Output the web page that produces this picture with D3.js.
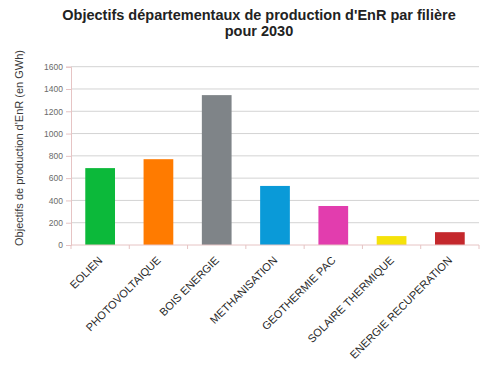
<!DOCTYPE html>
<html>
<head>
<meta charset="utf-8">
<script src="https://cdn.jsdelivr.net/npm/d3@7"></script>
<style>
  html, body { margin: 0; padding: 0; background: #fff; }
  svg { display: block; font-family: "Liberation Sans", Arial, sans-serif; }
</style>
</head>
<body>
<svg id="chart" width="482" height="369"></svg>
<script>
// Objectifs par filière (GWh)
const categories = ["EOLIEN", "PHOTOVOLTAIQUE", "BOIS ENERGIE", "METHANISATION",
  "GEOTHERMIE PAC", "SOLAIRE THERMIQUE", "ENERGIE RECUPERATION"];
const values = [690, 770, 1345, 530, 350, 80, 115];
const barColors = ["#0cb93a", "#ff7b00", "#7f8488", "#0a9ad8", "#e23dae", "#f5e20a", "#c4282c"];
const yTicks = [0, 200, 400, 600, 800, 1000, 1200, 1400, 1600];

const titleLines = ["Objectifs départementaux de production d'EnR par filière", "pour 2030"];
const yTitle = "Objectifs de production d'EnR (en GWh)";

const svg = d3.select("#chart");
const m = { left: 71, right: 479, top: 66.7, bottom: 245 };

const x = d3.scaleBand()
  .domain(categories)
  .range([m.left, m.right])
  .paddingInner(0.49)
  .paddingOuter(0.245);

const y = d3.scaleLinear().domain([0, 1600]).range([m.bottom, m.top]);

// horizontal gridlines
svg.append("g")
  .selectAll("line")
  .data(yTicks.filter(d => d > 0))
  .join("line")
  .attr("x1", m.left).attr("x2", m.right)
  .attr("y1", d => y(d)).attr("y2", d => y(d))
  .attr("stroke", "#d3d3d3").attr("stroke-width", 1);

// bars
svg.append("g")
  .selectAll("rect")
  .data(values)
  .join("rect")
  .attr("x", (d, i) => x(categories[i]))
  .attr("y", d => y(d))
  .attr("width", x.bandwidth())
  .attr("height", d => y(0) - y(d))
  .attr("fill", (d, i) => barColors[i]);

// y axis
const yAxis = svg.append("g")
  .attr("transform", `translate(${m.left},0)`)
  .call(d3.axisLeft(y).tickValues(yTicks).tickSize(5).tickPadding(3).tickFormat(d3.format("d")));
yAxis.select(".domain").attr("stroke", "#e6c4c4");
yAxis.selectAll(".tick line").attr("stroke", "#e6c4c4");
yAxis.selectAll(".tick text").attr("fill", "#6a6a6a").attr("font-size", 8.5)
  .attr("font-family", "Liberation Sans, Arial, sans-serif");

// x axis: ticks on category boundaries
const xAxisG = svg.append("g").attr("transform", `translate(0,${m.bottom})`);
xAxisG.append("line")
  .attr("x1", m.left).attr("x2", m.right)
  .attr("stroke", "#e6c4c4");
const step = x.step();
xAxisG.selectAll("line.tk")
  .data(d3.range(categories.length + 1))
  .join("line").attr("class", "tk")
  .attr("x1", i => m.left + i * step).attr("x2", i => m.left + i * step)
  .attr("y1", 0).attr("y2", 4)
  .attr("stroke", "#e6c4c4");

xAxisG.selectAll("text")
  .data(categories)
  .join("text")
  .attr("transform", d => `translate(${x(d) + x.bandwidth() / 2 + 3},${16}) rotate(-45)`)
  .attr("text-anchor", "end")
  .attr("font-size", 11)
  .attr("fill", "#2a2a2a")
  .text(d => d);

// y axis title
svg.append("text")
  .attr("transform", `translate(23,148) rotate(-90)`)
  .attr("text-anchor", "middle")
  .attr("font-size", 11)
  .attr("fill", "#3a3a3a")
  .text(yTitle);

// chart title
svg.append("g")
  .selectAll("text")
  .data(titleLines)
  .join("text")
  .attr("x", 259)
  .attr("y", (d, i) => 20 + i * 16)
  .attr("text-anchor", "middle")
  .attr("font-size", 14.5)
  .attr("font-weight", "bold")
  .attr("fill", "#222")
  .text(d => d);
</script>
</body>
</html>
